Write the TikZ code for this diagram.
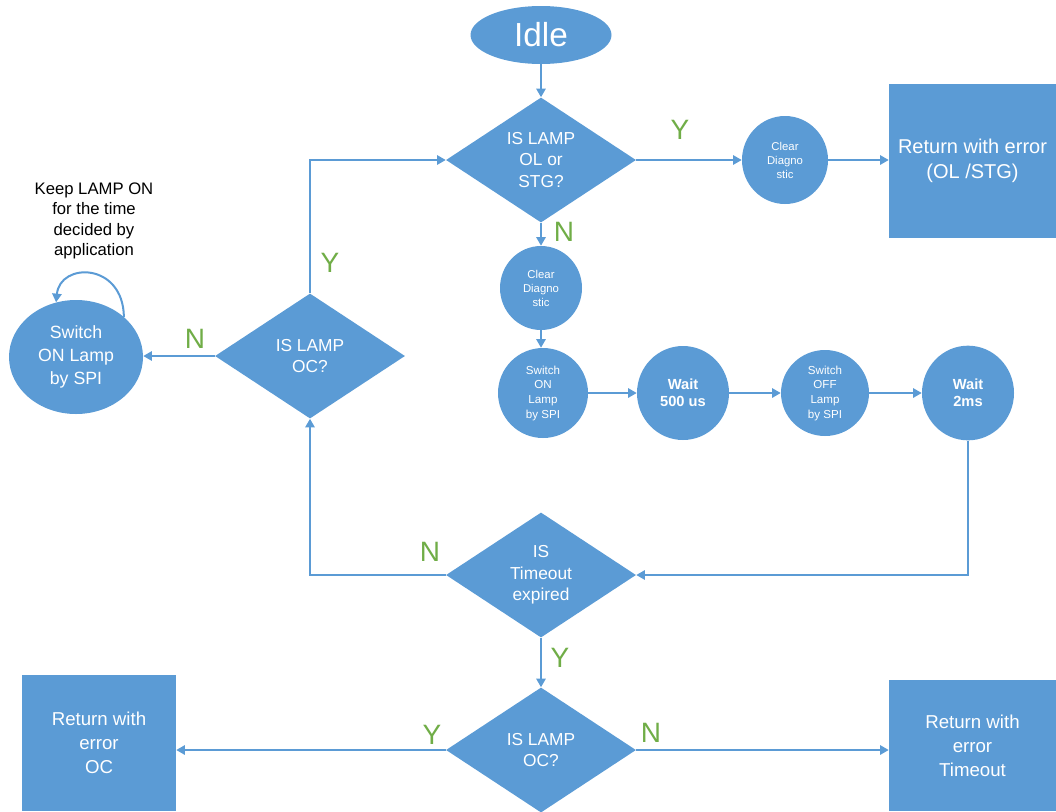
\documentclass[tikz,border=0pt]{standalone}
\usepackage{fontspec}
\setmainfont{Liberation Sans}
\usetikzlibrary{shapes.geometric,arrows.meta}
\definecolor{fcblue}{HTML}{5B9BD5}
\definecolor{fcgreen}{HTML}{70AD47}
\begin{document}
\begin{tikzpicture}[x=0.75pt,y=-0.75pt,
  blob/.style={fill=fcblue, draw=none, text=white, inner sep=0pt, align=center},
  dec/.style={blob, diamond, minimum width=142.5pt, minimum height=93.75pt, font=\fontsize{13}{16}\selectfont},
  oval/.style={blob, ellipse},
  boxn/.style={blob, rectangle},
  lbl/.style={text=fcgreen, font=\fontsize{21}{21}\selectfont, inner sep=0pt},
  ln/.style={draw=fcblue, line width=1.5pt},
  arr/.style={ln, -{Triangle[length=6.5pt,width=7pt]}}]
\useasboundingbox (0,0) rectangle (1056,811);

% nodes
\node[oval, minimum width=105.75pt, minimum height=43.5pt, font=\fontsize{25}{25}\selectfont] (idle) at (541,35) {Idle};
\node[dec] (d1) at (541,160) {IS LAMP\\OL or\\STG?};
\node[oval, minimum width=64.5pt, minimum height=66pt, font=\fontsize{8.5}{10.5}\selectfont] (cd1) at (785,160) {Clear\\Diagno\\stic};
\node[boxn, minimum width=125.25pt, minimum height=115.5pt, font=\fontsize{15}{19}\selectfont] (rol) at (972.5,161) {Return with error\\(OL /STG)};
\node[oval, minimum width=61.5pt, minimum height=63pt, font=\fontsize{8.5}{10.5}\selectfont] (cd2) at (541,288) {Clear\\Diagno\\stic};
\node[oval, minimum width=67.5pt, minimum height=67.5pt, font=\fontsize{8.7}{11}\selectfont] (son) at (543,393) {Switch\\ON\\Lamp\\by SPI};
\node[oval, minimum width=69pt, minimum height=70.5pt, font=\bfseries\fontsize{11}{12.5}\selectfont] (w500) at (683,393) {Wait\\500 us};
\node[oval, minimum width=66pt, minimum height=64.5pt, font=\fontsize{8.7}{11}\selectfont] (soff) at (825,393) {Switch\\OFF\\Lamp\\by SPI};
\node[oval, minimum width=69pt, minimum height=71pt, font=\bfseries\fontsize{11}{12.5}\selectfont] (w2) at (968,393) {Wait\\2ms};
\node[dec] (doc) at (310,356) {IS LAMP\\OC?};
\node[oval, minimum width=100.5pt, minimum height=85.5pt, font=\fontsize{13.3}{17}\selectfont] (big) at (76,357) {Switch\\ON Lamp\\by SPI};
\node[align=center, inner sep=0pt, font=\fontsize{12.5}{15.4}\selectfont] (keep) at (94,221) {Keep LAMP ON\\for the time\\decided by\\application};
\node[dec] (dto) at (541,575) {IS\\Timeout\\expired};
\node[dec] (doc2) at (541,750) {IS LAMP\\OC?};
\node[boxn, minimum width=115.5pt, minimum height=102pt, font=\fontsize{14}{18}\selectfont] (roc) at (99,743) {Return with\\error\\OC};
\node[boxn, minimum width=125.25pt, minimum height=98.25pt, font=\fontsize{14}{18}\selectfont] (rto) at (972.5,745.5) {Return with\\error\\Timeout};

% labels
\node[lbl] (y1) at (680,130) {Y};
\node[lbl] (n1) at (564,232) {N};
\node[lbl] (y2) at (330,263) {Y};
\node[lbl] (n2) at (195,339) {N};
\node[lbl] (n3) at (430,552) {N};
\node[lbl] (y3) at (560,658) {Y};
\node[lbl] (y4) at (432,735) {Y};
\node[lbl] (n4) at (651,733) {N};

% connectors
\draw[arr] (idle) -- (d1);
\draw[arr] (d1.east) -- (d1.east -| cd1.west);
\draw[arr] (cd1.east) -- (cd1.east -| rol.west);
\draw[arr] (d1.south) -- (cd2.north);
\draw[arr] (cd2.south) -- (cd2.south |- son.north);
\draw[arr] (son.east) -- (son.east -| w500.west);
\draw[arr] (w500.east) -- (w500.east -| soff.west);
\draw[arr] (soff.east) -- (soff.east -| w2.west);
\draw[arr] (w2.south) |- (dto.east);
\draw[arr] (dto.west) -| (doc.south);
\draw[arr] (doc.north) |- (d1.west);
\draw[arr] (doc.west) -- (doc.west -| big.east);
\draw[arr] (big.40) .. controls (123,262) and (60,262) .. (big.110);
\draw[arr] (dto.south) -- (doc2.north);
\draw[arr] (doc2.west) -- (doc2.west -| roc.east);
\draw[arr] (doc2.east) -- (doc2.east -| rto.west);
\end{tikzpicture}
\end{document}
